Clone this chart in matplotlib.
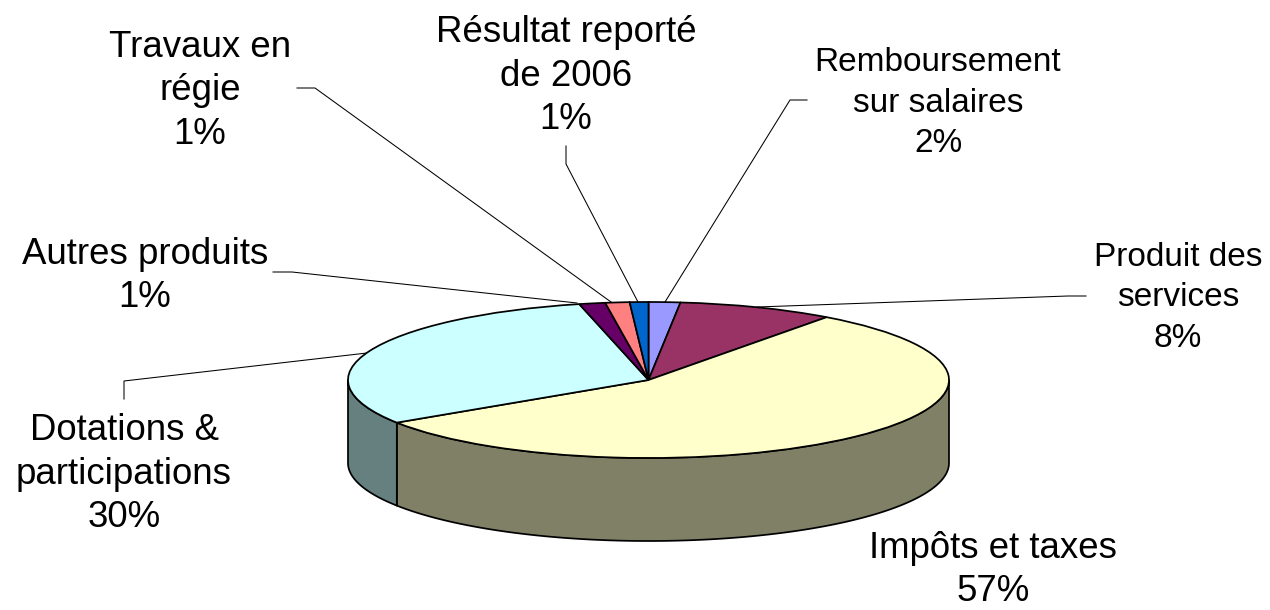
import numpy as np
import matplotlib
matplotlib.use("Agg")
import matplotlib.pyplot as plt

plt.rcParams['font.family'] = ['Liberation Sans', 'DejaVu Sans']

# Data (clockwise from the top of the pie)
names = ["Remboursement\nsur salaires", "Produit des\nservices", "Impôts et taxes",
         "Dotations &\nparticipations", "Autres produits", "Travaux en\nrégie",
         "Résultat reporté\nde 2006"]
values = [1.7, 8.4, 55.7, 30.5, 1.4, 1.3, 1.0]
shown_pct = ["2%", "8%", "57%", "30%", "1%", "1%", "1%"]
top_colors = ["#9999FF", "#993366", "#FFFFCC", "#CCFFFF", "#660066", "#FF8080", "#0066CC"]
wall_colors = ["#4D4D80", "#4D1A33", "#808066", "#668080", "#330033", "#804040", "#003366"]

W, H = 1270, 610
CX, CY, RX, RY, DEPTH = 648.5, 380, 300.5, 78, 83

# label: centre x, centre y, size, line spacing
label_pos = [(938, 103, 24, 1.40), (1178, 298, 24, 1.40), (993, 570, 26.4, 1.33),
             (124, 474, 26.4, 1.33), (145, 276, 26.4, 1.33), (200, 91, 26.4, 1.33),
             (566, 76, 26.4, 1.33)]
leaders = [
    [(807, 100), (790, 100), (665, 302)],
    [(1086, 296), (1068, 296), (757, 307)],
    None,
    [(124, 399), (124, 381), (367, 353)],
    [(273, 272), (292, 272), (577, 303)],
    [(297, 88), (315, 88), (611, 302)],
    [(566, 146), (566, 164), (638, 302)],
]

fig = plt.figure(figsize=(W / 100, H / 100), dpi=100, facecolor="white")

# pixel overlay for leaders and labels
ov = fig.add_axes([0, 0, 1, 1], zorder=1)
ov.set_xlim(0, W); ov.set_ylim(H, 0); ov.axis("off")

# pie axes: data range -1..1 is the top ellipse
ax = fig.add_axes([(CX - RX) / W, 1 - (CY + RY) / H, 2 * RX / W, 2 * RY / H], zorder=2)
ax.patch.set_alpha(0)

# side wall, from the same values
edges = 90 - 360 * np.cumsum([0] + values) / sum(values)
EW = 1.25
for a, b, col in zip(edges[:-1], edges[1:], wall_colors):
    lo_v, hi_v = max(b, -180), min(a, 0)
    if hi_v <= lo_v:
        continue
    t = np.radians(np.linspace(hi_v, lo_v, 200))
    x, y = np.cos(t), np.sin(t)
    d = DEPTH / RY
    ax.fill(np.r_[x, x[::-1]], np.r_[y, y[::-1] - d], facecolor=col, edgecolor="black",
            linewidth=EW, clip_on=False, joinstyle="round")

wedges, _ = ax.pie(values, colors=top_colors, startangle=90, counterclock=False, radius=1,
                   wedgeprops=dict(edgecolor="black", linewidth=EW))
for w in wedges:
    w.set_clip_on(False)
ax.set_aspect("auto")
ax.set_xlim(-1, 1); ax.set_ylim(-1, 1)
ax.axis("off")

for name, pct, (lx, ly, fs, ls), lead in zip(names, shown_pct, label_pos, leaders):
    ov.text(lx, ly, name + "\n" + pct, ha="center", va="center", fontsize=fs,
            linespacing=ls, color="black", multialignment="center")
    if lead:
        xs, ys = zip(*lead)
        ov.plot(xs, ys, color="black", linewidth=0.75, solid_joinstyle="miter")

fig.savefig("out.png", dpi=100)
